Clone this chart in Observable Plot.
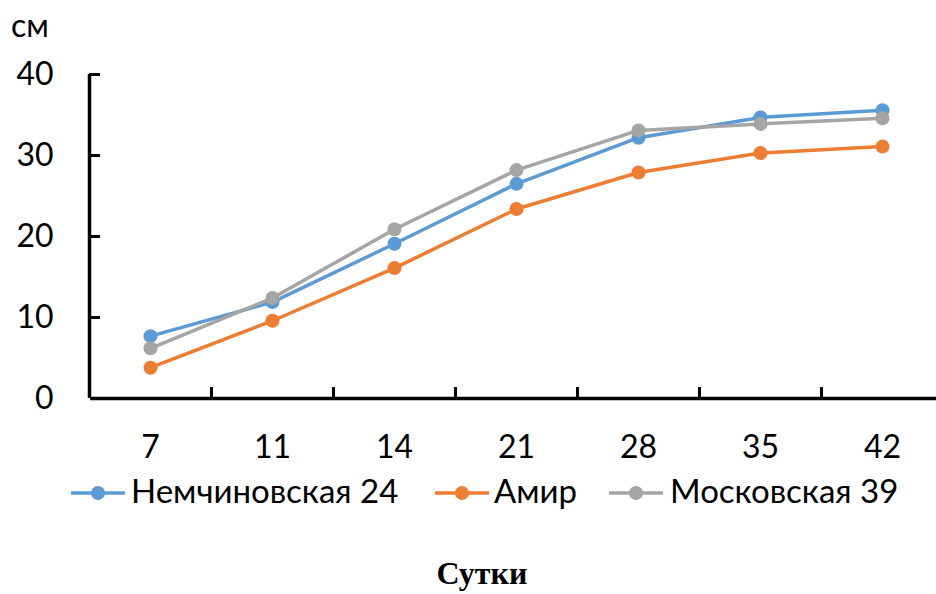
<!DOCTYPE html>
<html>
<head>
<meta charset="utf-8">
<script src="https://cdn.jsdelivr.net/npm/d3@7"></script>
<script src="https://cdn.jsdelivr.net/npm/@observablehq/plot@0.6"></script>
<style>
  html, body { margin: 0; padding: 0; background: #fff; }
  #wrap { position: relative; width: 936px; height: 594px; overflow: hidden; font-family: Lato, "Open Sans", sans-serif; color: #000; }
  #chart { position: absolute; left: 0; top: 0; }
  .abs { position: absolute; white-space: nowrap; }
</style>
</head>
<body>
<div id="wrap">
  <div id="chart"></div>
</div>
<script>
// ---- data ----
const days = ["7", "11", "14", "21", "28", "35", "42"];
const seriesNames = ["Немчиновская 24", "Амир", "Московская 39"];
const nemchinovskaya24 = [7.7, 11.9, 19.1, 26.5, 32.2, 34.7, 35.6];
const amir = [3.8, 9.6, 16.1, 23.4, 27.9, 30.3, 31.1];
const moskovskaya39 = [6.2, 12.4, 20.9, 28.2, 33.1, 33.9, 34.6];
const yTicks = [0, 10, 20, 30, 40];
const colors = ["#5B9BD5", "#ED7D31", "#A5A5A5"];
const yUnit = "см";
const xTitle = "Сутки";

const values = [nemchinovskaya24, amir, moskovskaya39];
const rows = [];
values.forEach((arr, s) => arr.forEach((v, i) => rows.push({series: seriesNames[s], i, day: days[i], value: v})));
const idx = days.map((d, i) => i);
const boundaries = days.slice(1).map((d, i) => i + 0.5);

const marks = [
  Plot.axisY({ticks: yTicks, tickSize: 0, tickPadding: 37, fontSize: 32, label: null}),
  Plot.axisX({ticks: idx, tickFormat: i => days[i], tickSize: 0, tickPadding: 37, fontSize: 32, label: null}),
  Plot.ruleY(yTicks.slice(1), {x1: -0.5, x2: -0.41, stroke: "#000", strokeWidth: 3}),
  Plot.ruleX(boundaries, {y1: 0, y2: 1.35, stroke: "#000", strokeWidth: 3}),
];
seriesNames.forEach(name => {
  const d = rows.filter(r => r.series === name);
  marks.push(Plot.line(d, {x: "i", y: "value", stroke: "series", strokeWidth: 3.5}));
  marks.push(Plot.dot(d, {x: "i", y: "value", fill: "series", r: 7, stroke: "none"}));
});
marks.push(Plot.ruleX([-0.5], {stroke: "#000", strokeWidth: 3.5}));
marks.push(Plot.ruleY([0], {stroke: "#000", strokeWidth: 3.5}));

const chart = Plot.plot({
  width: 936,
  height: 470,
  marginLeft: 90,
  marginRight: 0,
  marginTop: 74,
  marginBottom: 72,
  style: {fontFamily: "Lato, 'Open Sans', sans-serif", fontSize: "32px", color: "#000", background: "#fff", overflow: "visible"},
  x: {domain: [-0.5, 6.5], range: [89, 943]},
  y: {domain: [0, 40], range: [398, 74]},
  color: {domain: seriesNames, range: colors},
  marks
});
document.getElementById("chart").appendChild(chart);

const wrap = document.getElementById("wrap");
function addText(txt, css) {
  const el = document.createElement("div");
  el.className = "abs";
  el.style.cssText = css;
  el.textContent = txt;
  wrap.appendChild(el);
  return el;
}
// unit label
addText(yUnit, "left:11px;top:9px;font-size:32px;line-height:32px;");

// legend
const swatchLeft = [71, 435, 609];
const textLeft = [131, 494, 670];
seriesNames.forEach((name, s) => {
  const sw = document.createElement("div");
  sw.className = "abs";
  sw.style.cssText = `left:${swatchLeft[s]}px;top:485px;width:54px;height:16px;`;
  sw.innerHTML = `<svg width="54" height="16"><line x1="0" x2="54" y1="8" y2="8" stroke="${colors[s]}" stroke-width="3.5"/><circle cx="27" cy="8" r="7" fill="${colors[s]}"/></svg>`;
  wrap.appendChild(sw);
  addText(name, `left:${textLeft[s]}px;top:474px;font-size:33px;line-height:33px;`);
});

// x title
addText(xTitle, "left:482px;top:557px;transform:translateX(-50%);font-family:'Liberation Serif','Times New Roman',serif;font-weight:bold;font-size:32px;line-height:32px;");
</script>
</body>
</html>
